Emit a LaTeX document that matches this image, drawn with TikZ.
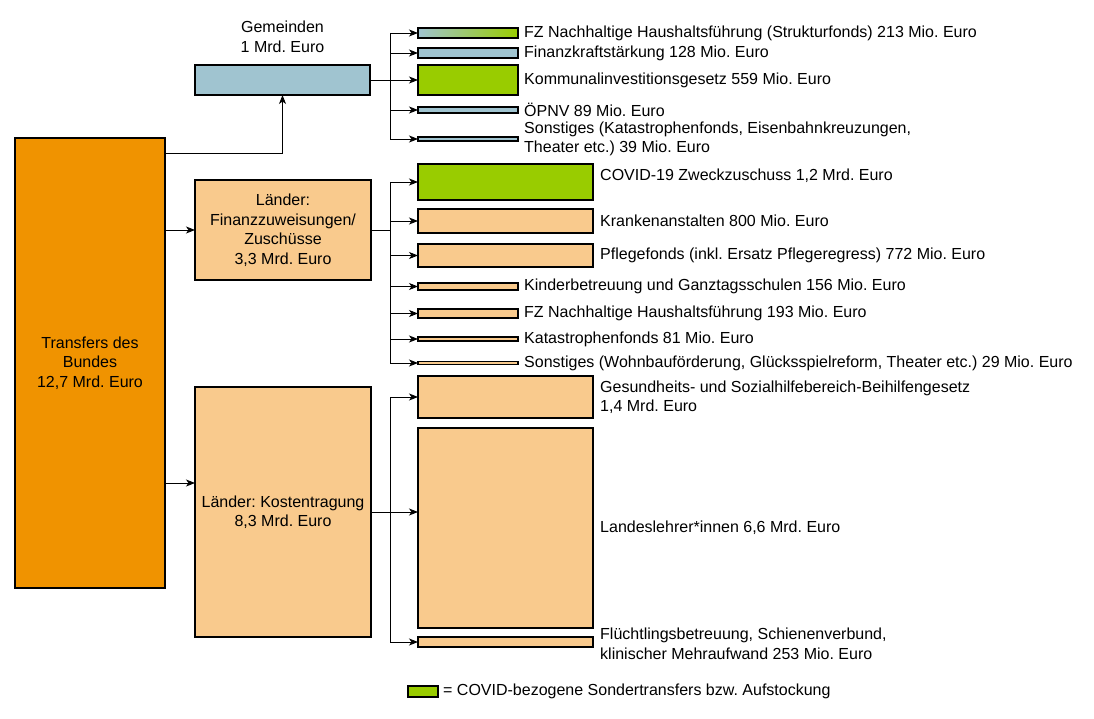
\documentclass[tikz,border=0pt]{standalone}
\usepackage{fontspec}
\setmainfont{Liberation Sans}
\usetikzlibrary{arrows.meta,positioning}
\frenchspacing

\definecolor{bund}{HTML}{F09300}
\definecolor{land}{HTML}{F9CA8D}
\definecolor{gem}{HTML}{A0C4D0}
\definecolor{covid}{HTML}{99CC00}

\tikzset{
  box/.style={rectangle, draw, line width=1.1pt, inner sep=0pt, outer sep=0pt},
  lbl/.style={inner sep=0pt, align=left, anchor=west},
  flow/.style={-{Stealth[length=9pt,width=7pt,inset=2.5pt]}, line width=0.9pt},
  bus/.style={line width=0.9pt}
}

\begin{document}
\begin{tikzpicture}[x=1pt,y=-1pt,font=\fontsize{16}{19.5}\selectfont]
  \useasboundingbox (0,0) rectangle (1094,719);

  % Bund und Empfaenger
  \node[box, fill=bund, minimum width=150pt, minimum height=450pt, align=center] at (90,363) (bund) {Transfers des\\Bundes\\12,7 Mrd. Euro};
  \node[box, fill=gem, minimum width=175pt, minimum height=30pt] at (282.5,80) (gmd) {};
  \node[inner sep=0pt, align=center] at (282.5,37) (gmdtxt) {Gemeinden\\1 Mrd. Euro};
  \node[box, fill=land, minimum width=176pt, minimum height=100pt, align=center] at (283,230) (lfz) {L\"ander:\\Finanzzuweisungen/\\Zusch\"usse\\3,3 Mrd. Euro};
  \node[box, fill=land, minimum width=176pt, minimum height=250pt, align=center] at (283,512) (lkt) {L\"ander: Kostentragung\\8,3 Mrd. Euro};

  % Gemeinden
  \node[box, left color=gem, right color=covid, minimum width=100pt, minimum height=10pt, anchor=west] at (418,33) (g1) {};
  \node[box, fill=gem, minimum width=100pt, minimum height=10pt, anchor=west] at (418,53) (g2) {};
  \node[box, fill=covid, minimum width=100pt, minimum height=30pt, anchor=west] at (418,80) (g3) {};
  \node[box, fill=gem, minimum width=100pt, minimum height=6pt, anchor=west] at (418,110) (g4) {};
  \node[box, fill=gem, minimum width=100pt, minimum height=4pt, anchor=west] at (418,139) (g5) {};
  \node[lbl, right=6pt of g1] (g1txt) {FZ Nachhaltige Haushaltsf\"uhrung (Strukturfonds) 213 Mio. Euro};
  \node[lbl, right=6pt of g2] (g2txt) {Finanzkraftst\"arkung 128 Mio. Euro};
  \node[lbl, right=6pt of g3] (g3txt) {Kommunalinvestitionsgesetz 559 Mio. Euro};
  \node[lbl, right=6pt of g4] (g4txt) {\"OPNV 89 Mio. Euro};
  \node[lbl, right=6pt of g5] (g5txt) {Sonstiges (Katastrophenfonds, Eisenbahnkreuzungen,\\Theater etc.) 39 Mio. Euro};

  % Laender: Finanzzuweisungen
  \node[box, fill=covid, minimum width=175pt, minimum height=36pt, anchor=west] at (418,182) (f1) {};
  \node[box, fill=land, minimum width=175pt, minimum height=24pt, anchor=west] at (418,221) (f2) {};
  \node[box, fill=land, minimum width=175pt, minimum height=23pt, anchor=west] at (418,255.5) (f3) {};
  \node[box, fill=land, minimum width=100pt, minimum height=7pt, anchor=west] at (418,286.5) (f4) {};
  \node[box, fill=land, minimum width=100pt, minimum height=9pt, anchor=west] at (418,313.5) (f5) {};
  \node[box, fill=land, minimum width=100pt, minimum height=4pt, anchor=west] at (418,339) (f6) {};
  \node[box, fill=land, minimum width=100pt, minimum height=2.5pt, anchor=west] at (418,363) (f7) {};
  \node[lbl, right=7pt of f1, yshift=6pt] (f1txt) {COVID-19 Zweckzuschuss 1,2 Mrd. Euro};
  \node[lbl, right=7pt of f2] (f2txt) {Krankenanstalten 800 Mio. Euro};
  \node[lbl, right=7pt of f3] (f3txt) {Pflegefonds (inkl. Ersatz Pflegeregress) 772 Mio. Euro};
  \node[lbl, right=6pt of f4] (f4txt) {Kinderbetreuung und Ganztagsschulen 156 Mio. Euro};
  \node[lbl, right=6pt of f5] (f5txt) {FZ Nachhaltige Haushaltsf\"uhrung 193 Mio. Euro};
  \node[lbl, right=6pt of f6] (f6txt) {Katastrophenfonds 81 Mio. Euro};
  \node[lbl, right=6pt of f7] (f7txt) {Sonstiges (Wohnbauf\"orderung, Gl\"ucksspielreform, Theater etc.) 29 Mio. Euro};

  % Laender: Kostentragung
  \node[box, fill=land, minimum width=175pt, minimum height=42pt, anchor=west] at (418,397) (k1) {};
  \node[box, fill=land, minimum width=175pt, minimum height=200pt, anchor=west] at (418,528) (k2) {};
  \node[box, fill=land, minimum width=175pt, minimum height=10pt, anchor=west] at (418,642) (k3) {};
  \node[lbl, right=7pt of k1] (k1txt) {Gesundheits- und Sozialhilfebereich-Beihilfengesetz\\1,4 Mrd. Euro};
  \node[lbl, right=7pt of k2] (k2txt) {Landeslehrer*innen 6,6 Mrd. Euro};
  \node[lbl, right=7pt of k3, yshift=-2pt] (k3txt) {Fl\"uchtlingsbetreuung, Schienenverbund,\\klinischer Mehraufwand 253 Mio. Euro};

  % Legende
  \node[box, fill=covid, minimum width=30pt, minimum height=11pt] at (423,691.5) (leg) {};
  \node[lbl, right=5pt of leg] (legtxt) {= COVID-bezogene Sondertransfers bzw. Aufstockung};

  % Verbindungen vom Bund
  \coordinate (lktin) at ([yshift=29pt]lkt.west);
  \draw[flow] ([yshift=-15pt]bund.north east) -| (gmd.south);
  \draw[flow] (bund.east |- lfz.west) -- (lfz.west);
  \draw[flow] (bund.east |- lktin) -- (lktin);

  % Verteiler
  \coordinate (gbus) at ([xshift=20pt]gmd.east);
  \coordinate (fbus) at ([xshift=19pt]lfz.east);
  \coordinate (kbus) at ([xshift=19pt]lkt.east);
  \draw[bus] (gmd.east) -- (gbus);
  \draw[bus] (gbus |- g1.west) -- (gbus |- g5.west);
  \foreach \c in {g1,g2,g3,g4,g5}
    \draw[flow] (gbus |- \c.west) -- (\c.west);
  \draw[bus] (lfz.east) -- (fbus);
  \draw[bus] (fbus |- f1.west) -- (fbus |- f7.west);
  \foreach \c in {f1,f2,f3,f4,f5,f6,f7}
    \draw[flow] (fbus |- \c.west) -- (\c.west);
  \draw[flow] (lkt.east) -- (lkt.east -| k2.west);
  \draw[bus] (kbus |- k1.west) -- (kbus |- k3.west);
  \foreach \c in {k1,k3}
    \draw[flow] (kbus |- \c.west) -- (\c.west);
\end{tikzpicture}
\end{document}
